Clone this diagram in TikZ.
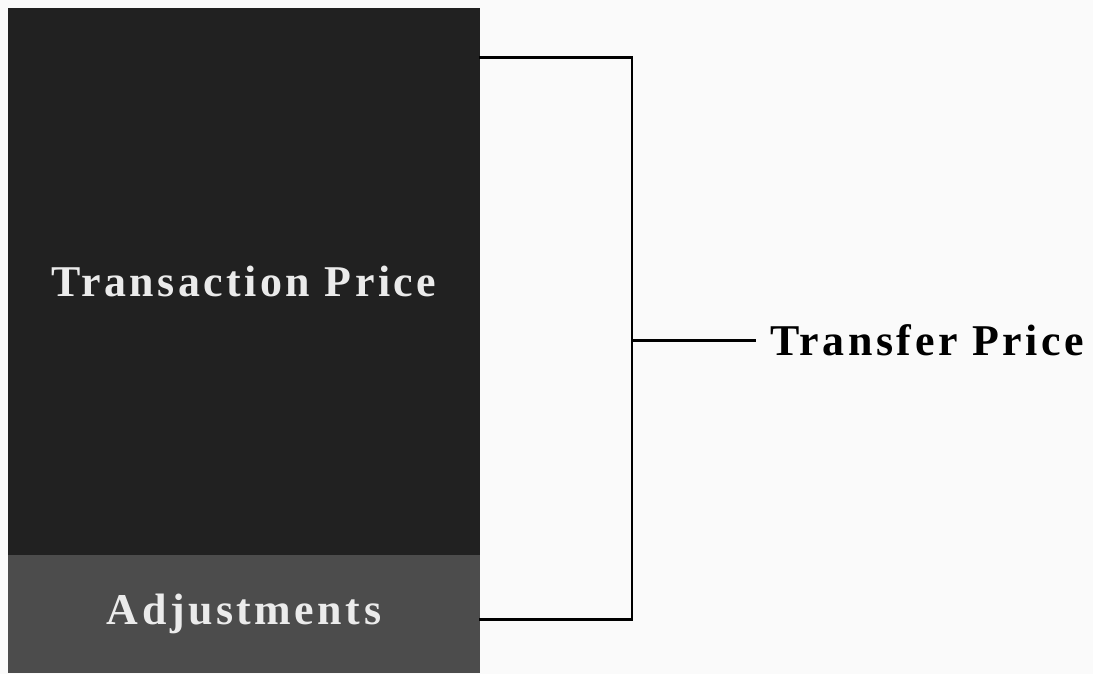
\documentclass[tikz,border=0pt]{standalone}
\usepackage{fontspec}
\setmainfont{Liberation Serif}[LetterSpace=8]
\usetikzlibrary{positioning}

\tikzset{
	block/.style={draw=none, minimum width=9.44cm, inner sep=0pt, text=white!92!black, font=\fontsize{25}{30}\selectfont\bfseries},
	bracket/.style={line width=1.7pt, line cap=rect}
}

\begin{document}
\begin{tikzpicture}[x=0.02cm, y=-0.02cm]
		\useasboundingbox (0,0) rectangle (1093,674);
		\fill[white!98!black] (0,0) rectangle (1093,674);
		\node (tp) [block, fill=black!87, minimum height=10.96cm] at (244,281.7) {Transaction Price};
		\node (adj) [block, fill=black!70, minimum height=2.36cm, below=-0.02cm of tp] {Adjustments};
		\coordinate (jt) at (632,57);
		\coordinate (jb) at (632,619);
		\node (tf) [anchor=west, inner sep=0.3cm, font=\fontsize{25}{30}\selectfont\bfseries] at (755,340) {Transfer Price};
		\draw[bracket] (tp.east |- jt) -- (jt) -- (jb) -- (adj.east |- jb);
		\draw[bracket] (jt |- tf.west) -- (tf.west);
	\end{tikzpicture}
\end{document}
